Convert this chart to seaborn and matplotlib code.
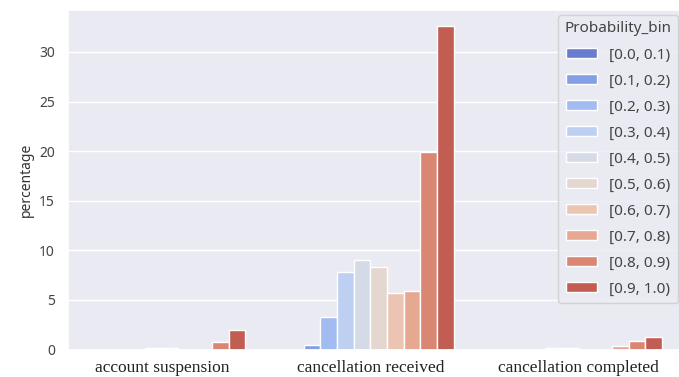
import matplotlib
matplotlib.use("Agg")
import matplotlib.pyplot as plt
import seaborn as sns
import pandas as pd

categories = ["account suspension", "cancellation received", "cancellation completed"]
bins = ["[0.0, 0.1)", "[0.1, 0.2)", "[0.2, 0.3)", "[0.3, 0.4)", "[0.4, 0.5)",
        "[0.5, 0.6)", "[0.6, 0.7)", "[0.7, 0.8)", "[0.8, 0.9)", "[0.9, 1.0)"]
account_suspension = [0.0, 0.0, 0.0, 0.0, 0.15, 0.15, 0.0, 0.0, 0.8, 2.0]
cancellation_received = [0.0, 0.5, 3.25, 7.85, 9.0, 8.35, 5.7, 5.85, 19.9, 32.6]
cancellation_completed = [0.0, 0.0, 0.0, 0.2, 0.2, 0.0, 0.0, 0.4, 0.85, 1.25]

rows = []
for cat, vals in zip(categories, [account_suspension, cancellation_received, cancellation_completed]):
    for b, v in zip(bins, vals):
        rows.append({"status": cat, "Probability_bin": b, "percentage": v})
df = pd.DataFrame(rows)

sns.set_theme(style="darkgrid")
plt.rcParams["font.family"] = ["Noto Sans", "DejaVu Sans"]

fig = plt.figure(figsize=(6.79, 3.77), dpi=100)
ax = fig.add_axes([68 / 679, 27.5 / 377, 615 / 679, 339.5 / 377])
sns.barplot(data=df, x="status", y="percentage", hue="Probability_bin",
            hue_order=bins, order=categories, palette="coolwarm", ax=ax)
ax.set_xlim(-0.45, 2.5)
ax.set_xlabel("")
ax.set_ylabel("percentage", fontsize=10, color="#333333")
ax.tick_params(axis="y", labelsize=10, labelcolor="#444444")
ax.tick_params(axis="x", pad=1.5)
for lab in ax.get_xticklabels():
    lab.set_fontfamily("Liberation Serif")
    lab.set_fontsize(12.5)
    lab.set_color("#222222")
leg = ax.legend(title="Probability_bin", loc="upper right", fontsize=11,
                title_fontsize=11, frameon=True, labelspacing=0.72,
                borderaxespad=0.35)
for t in leg.get_texts():
    t.set_color("#444444")
leg.get_title().set_color("#444444")
fig.savefig("out.png", dpi=100)
